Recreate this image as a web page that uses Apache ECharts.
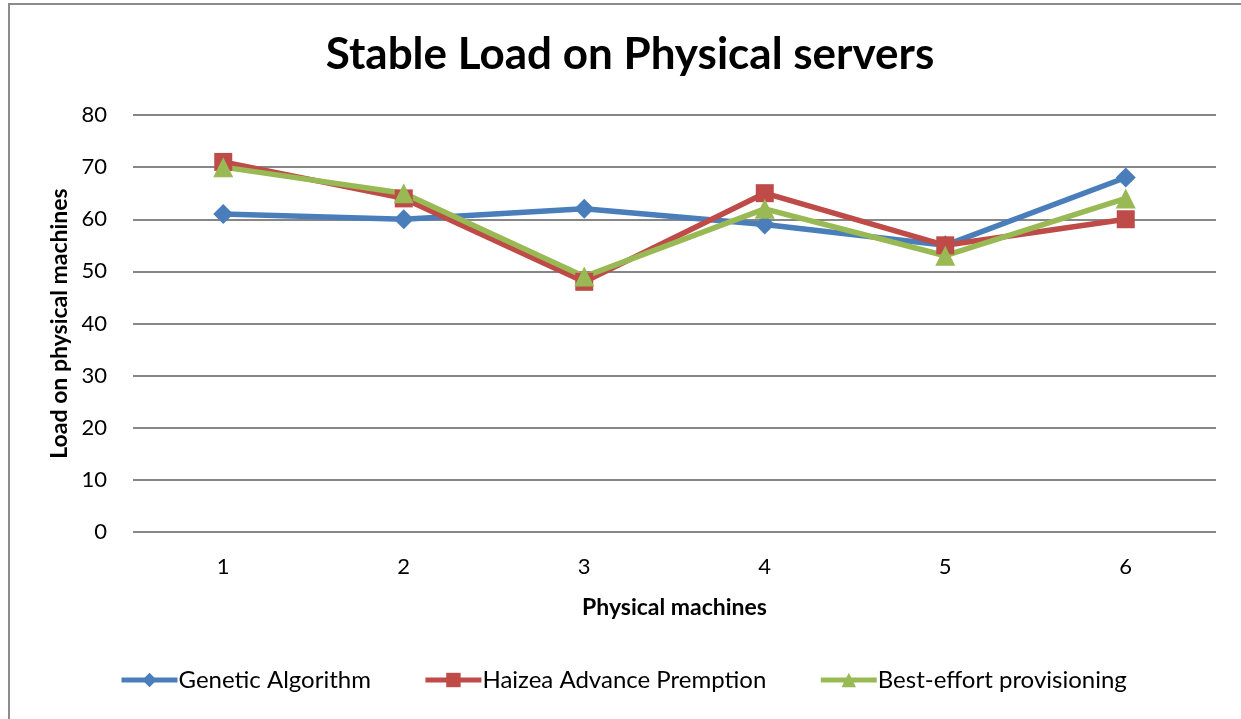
<!DOCTYPE html>
<html>
<head>
<meta charset="utf-8">
<script src="https://cdn.jsdelivr.net/npm/echarts@6/dist/echarts.min.js"></script>
<style>
  html, body { margin: 0; padding: 0; background: #fff; }
  #frame { position: absolute; left: 8px; top: 3px; width: 1240px; height: 720px;
           border-left: 2px solid #8c8c8c; border-top: 2px solid #8c8c8c; }
  #chart { position: absolute; left: 0; top: 0; width: 1241px; height: 719px; }
</style>
</head>
<body>
<div id="frame"></div>
<div id="chart"></div>
<script>
const machines = ['1', '2', '3', '4', '5', '6'];
const genetic = [61, 60, 62, 59, 55, 68];
const haizea = [71, 64, 48, 65, 55, 60];
const bestEffort = [70, 65, 49, 62, 53, 64];

const font = 'Lato, "Open Sans", sans-serif';
var chart = echarts.init(document.getElementById('chart'));

function line(name, data, color, symbol, size) {
  return {
    name: name,
    type: 'line',
    data: data,
    symbol: symbol,
    symbolSize: size,
    lineStyle: { color: color, width: 5.5 },
    itemStyle: { color: color },
    emphasis: { disabled: true },
    z: 3
  };
}

chart.setOption({
  animation: false,
  title: {
    text: 'Stable Load on Physical servers',
    left: 625,
    textAlign: 'center',
    top: 28,
    textStyle: { fontFamily: font, fontSize: 44, fontWeight: 'bold', color: '#000' }
  },
  legend: {
    bottom: 22,
    left: 114,
    itemWidth: 56,
    itemHeight: 18,
    itemGap: 52,
    lineStyle: { width: 5 },
    textStyle: { fontFamily: font, fontSize: 24, color: '#000', padding: [0, 0, 0, -4] },
    data: ['Genetic Algorithm', 'Haizea Advance Premption', 'Best-effort provisioning']
  },
  grid: { left: 133, right: 25, top: 115, bottom: 187 },
  xAxis: {
    type: 'category',
    data: machines,
    name: 'Physical machines',
    nameLocation: 'middle',
    nameGap: 64,
    nameTextStyle: { fontFamily: font, fontSize: 23, fontWeight: 'bold', color: '#000' },
    axisLine: { show: false },
    axisTick: { show: false },
    axisLabel: { fontFamily: font, fontSize: 22, color: '#000', margin: 24 }
  },
  yAxis: {
    type: 'value',
    min: 0,
    max: 80,
    interval: 10,
    name: 'Load on physical machines',
    nameLocation: 'middle',
    nameGap: 62,
    nameTextStyle: { fontFamily: font, fontSize: 23, fontWeight: 'bold', color: '#000' },
    axisLine: { show: false },
    axisTick: { show: false },
    axisLabel: { fontFamily: font, fontSize: 22, color: '#000', margin: 26 },
    splitLine: { lineStyle: { color: '#868686', width: 2 } }
  },
  series: [
    line('Genetic Algorithm', genetic, '#4a7ebb', 'diamond', 20),
    line('Haizea Advance Premption', haizea, '#be4b48', 'rect', 18),
    line('Best-effort provisioning', bestEffort, '#98b954', 'triangle', 20)
  ]
});
</script>
</body>
</html>
